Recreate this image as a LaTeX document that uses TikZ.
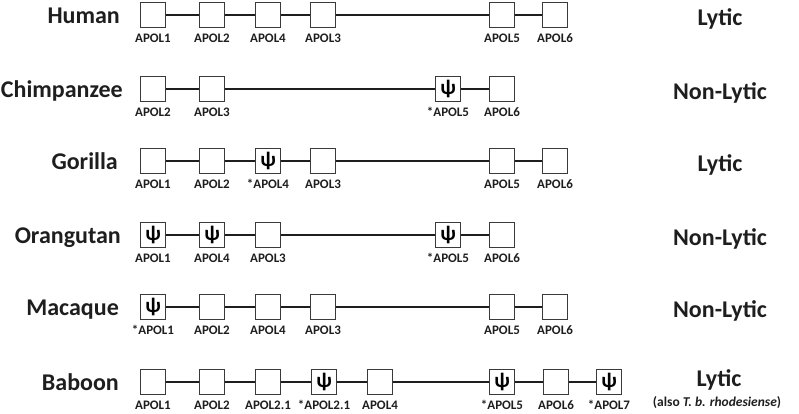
\documentclass[tikz,border=0pt]{standalone}
\usepackage{fontspec}
\setmainfont{Carlito}
\usepackage{tikz}
\usetikzlibrary{positioning}
\definecolor{inkdark}{HTML}{1E1E1E}
\definecolor{boxline}{HTML}{3A3A3A}
\tikzset{
  % --- species names (left) and phenotype (right) ---
  species/.style={anchor=base east, inner sep=0pt, font=\fontsize{24}{26}\selectfont\bfseries,
                  text=inkdark},
  pheno/.style={anchor=base, inner sep=0pt, font=\fontsize{24}{26}\selectfont\bfseries,
                text=inkdark},
  phenonote/.style={anchor=base, inner sep=0pt, font=\fontsize{13.5}{15}\selectfont\bfseries,
                    text=inkdark},
  % --- gene boxes ---
  gene/.style={draw=boxline, line width=1.4pt, fill=white, minimum width=25pt,
               minimum height=25pt, inner sep=0pt},
  pseudo/.style={gene, font=\fontsize{21}{21}\selectfont\bfseries,
                 execute at begin node={ψ}},
  genelabel/.style={inner sep=0pt, text height=9pt, text depth=0pt,
                    font=\fontsize{13}{14}\selectfont\bfseries, text=inkdark},
  % --- chromosome backbone ---
  chrom/.style={line width=2.6pt, draw=inkdark},
}
\begin{document}
\begin{tikzpicture}[x=1pt, y=-1pt]
  \useasboundingbox (0,0) rectangle (799,413);

  % --- Human ---
  \node[species] (human) at (120,23.5) {Human};
  \foreach \x/\g/\s [count=\i] in {153/APOL1/gene, 212/APOL2/gene, 268/APOL4/gene,
                                   323/APOL3/gene, 502/APOL5/gene, 555/APOL6/gene}{
    \node[\s] (hu\i) at (\x,15) {};
    \node[genelabel, below=5pt of hu\i] (hul\i) {\g};
  }
  \draw[chrom] (hu1) -- (hu2) -- (hu3) -- (hu4) -- (hu5) -- (hu6);
  \node[pheno] (hup) at (720,25.5) {Lytic};

  % --- Chimpanzee ---
  \node[species] (chimp) at (123,97.5) {Chimpanzee};
  \foreach \x/\g/\s [count=\i] in {153/APOL2/gene, 212/APOL3/gene,
                                   448/*APOL5/pseudo, 502/APOL6/gene}{
    \node[\s] (ch\i) at (\x,89) {};
    \node[genelabel, below=5pt of ch\i] (chl\i) {\g};
  }
  \draw[chrom] (ch1) -- (ch2) -- (ch3) -- (ch4);
  \node[pheno] (chp) at (720,99.5) {Non-Lytic};

  % --- Gorilla ---
  \node[species] (gorilla) at (118,169.5) {Gorilla};
  \foreach \x/\g/\s [count=\i] in {153/APOL1/gene, 212/APOL2/gene, 268/*APOL4/pseudo,
                                   323/APOL3/gene, 502/APOL5/gene, 555/APOL6/gene}{
    \node[\s] (go\i) at (\x,161) {};
    \node[genelabel, below=5pt of go\i] (gol\i) {\g};
  }
  \draw[chrom] (go1) -- (go2) -- (go3) -- (go4) -- (go5) -- (go6);
  \node[pheno] (gop) at (720,171.5) {Lytic};

  % --- Orangutan ---
  \node[species] (orang) at (121,243.5) {Orangutan};
  \foreach \x/\g/\s [count=\i] in {153/APOL1/pseudo, 212/APOL4/pseudo, 268/APOL3/gene,
                                   448/*APOL5/pseudo, 502/APOL6/gene}{
    \node[\s] (or\i) at (\x,235) {};
    \node[genelabel, below=5pt of or\i] (orl\i) {\g};
  }
  \draw[chrom] (or1) -- (or2) -- (or3) -- (or4) -- (or5);
  \node[pheno] (orp) at (720,245.5) {Non-Lytic};

  % --- Macaque ---
  \node[species] (macaque) at (119,315.5) {Macaque};
  \foreach \x/\g/\s [count=\i] in {153/*APOL1/pseudo, 212/APOL2/gene, 268/APOL4/gene,
                                   323/APOL3/gene, 502/APOL5/gene, 555/APOL6/gene}{
    \node[\s] (ma\i) at (\x,307) {};
    \node[genelabel, below=5pt of ma\i] (mal\i) {\g};
  }
  \draw[chrom] (ma1) -- (ma2) -- (ma3) -- (ma4) -- (ma5) -- (ma6);
  \node[pheno] (map) at (720,317.5) {Non-Lytic};

  % --- Baboon ---
  \node[species] (baboon) at (119,390.5) {Baboon};
  \foreach \x/\g/\s [count=\i] in {153/APOL1/gene, 212/APOL2/gene, 268/APOL2.1/gene,
                                   324/*APOL2.1/pseudo, 380/APOL4/gene, 502/*APOL5/pseudo,
                                   556/APOL6/gene, 609/*APOL7/pseudo}{
    \node[\s] (ba\i) at (\x,382) {};
    \node[genelabel, below=5pt of ba\i] (bal\i) {\g};
  }
  \draw[chrom] (ba1) -- (ba2) -- (ba3) -- (ba4) -- (ba5) -- (ba6) -- (ba7) -- (ba8);
  \node[pheno] (bap) at (719,386) {Lytic};
  \node[phenonote] (bapn) at (717,406) {(also \textit{T. b. rhodesiense})};
\end{tikzpicture}
\end{document}
